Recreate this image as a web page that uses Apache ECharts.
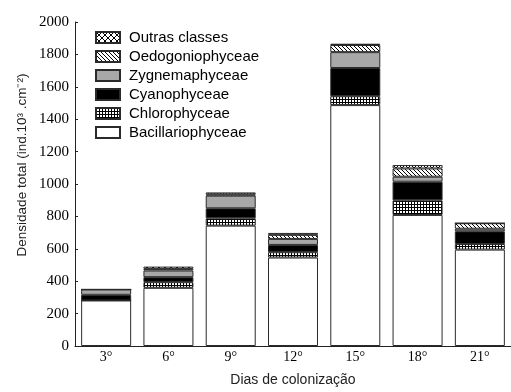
<!DOCTYPE html>
<html>
<head>
<meta charset="utf-8">
<script src="https://cdn.jsdelivr.net/npm/echarts@6/dist/echarts.min.js"></script>
<style>
html,body{margin:0;padding:0;background:#fff;}
#main{width:511px;height:392px;}
</style>
</head>
<body>
<div id="main"></div>
<script>
var dias = ['3°', '6°', '9°', '12°', '15°', '18°', '21°'];
var bacillariophyceae = [281, 359, 743, 546, 1487, 809, 595];
var chlorophyceae = [0, 35, 45, 33, 55, 90, 35];
var cyanophyceae = [35, 31, 62, 45, 174, 115, 78];
var zygnemaphyceae = [33, 41, 78, 37, 98, 31, 16];
var oedogoniophyceae = [0, 10, 8, 25, 44, 51, 34];
var outras = [0, 14, 12, 12, 8, 21, 0];
var yTicks = [0, 200, 400, 600, 800, 1000, 1200, 1400, 1600, 1800, 2000];

// small canvas tiles for the hatch fills
function tile(size, draw) {
    var c = document.createElement('canvas');
    c.width = size;
    c.height = size;
    var ctx = c.getContext('2d');
    ctx.fillStyle = '#fff';
    ctx.fillRect(0, 0, size, size);
    ctx.fillStyle = '#000';
    draw(ctx, size);
    return {image: c, repeat: 'repeat'};
}
var gradeFill = tile(3, function(ctx, s){
    ctx.fillRect(0, 0, s, 1);
    ctx.fillRect(0, 0, 1, s);
});
var diagFill = tile(4, function(ctx, s){
    for (var i = 0; i < s; i++) ctx.fillRect(i, i, 1, 1);
});
var xFill = tile(6, function(ctx, s){
    for (var i = 0; i < s; i++) {
        ctx.fillRect(i, i, 1, 1);
        ctx.fillRect(s - 1 - i, i, 1, 1);
    }
});

function serie(name, data, fill) {
    return {
        name: name,
        type: 'bar',
        stack: 'total',
        barWidth: 50,
        data: data,
        itemStyle: {color: fill, borderColor: '#2a2a2a', borderWidth: 1},
        emphasis: {disabled: true}
    };
}

var myChart = echarts.init(document.getElementById('main'));
option = {
    animation: false,
    backgroundColor: '#fff',
    grid: {left: 75, top: 22, width: 451, bottom: 46, containLabel: false},
    legend: {
        orient: 'vertical',
        left: 90,
        top: 25,
        itemWidth: 24,
        itemHeight: 11,
        itemGap: 4,
        icon: 'rect',
        data: ['Outras classes', 'Oedogoniophyceae', 'Zygnemaphyceae', 'Cyanophyceae', 'Chlorophyceae', 'Bacillariophyceae'],
        textStyle: {fontFamily: 'Liberation Sans', fontSize: 15, color: '#000', padding: [0, 0, 0, 4]}
    },
    graphic: [{
        type: 'text',
        x: 22,
        y: 165,
        rotation: Math.PI / 2,
        style: {
            text: 'Densidade total (ind.10³ .cm⁻²)',
            font: '13.5px "Liberation Sans"',
            fill: '#222',
            align: 'center',
            verticalAlign: 'middle'
        }
    }],
    xAxis: {
        type: 'category',
        data: dias,
        boundaryGap: true,
        name: 'Dias de colonização',
        nameLocation: 'middle',
        nameGap: 27,
        nameTextStyle: {fontFamily: 'Liberation Sans', fontSize: 14, color: '#222'},
        axisLine: {lineStyle: {color: '#222', width: 1}},
        axisTick: {inside: true, alignWithLabel: true, length: 3, lineStyle: {color: '#222'}},
        axisLabel: {fontFamily: 'Liberation Serif', fontSize: 14, color: '#000', margin: 4}
    },
    yAxis: {
        type: 'value',
        min: yTicks[0],
        max: yTicks[yTicks.length - 1],
        interval: 200,
        splitLine: {show: false},
        axisLine: {show: true, lineStyle: {color: '#222', width: 1}},
        axisTick: {show: true, inside: true, length: 3, lineStyle: {color: '#222'}},
        axisLabel: {
            fontFamily: 'Liberation Serif', fontSize: 15, color: '#000', margin: 6,
            formatter: function(v){ return String(v); }
        }
    },
    series: [
        serie('Bacillariophyceae', bacillariophyceae, '#fff'),
        serie('Chlorophyceae', chlorophyceae, gradeFill),
        serie('Cyanophyceae', cyanophyceae, '#000'),
        serie('Zygnemaphyceae', zygnemaphyceae, '#a8a8a8'),
        serie('Oedogoniophyceae', oedogoniophyceae, diagFill),
        serie('Outras classes', outras, xFill)
    ]
};
myChart.setOption(option);
</script>
</body>
</html>
